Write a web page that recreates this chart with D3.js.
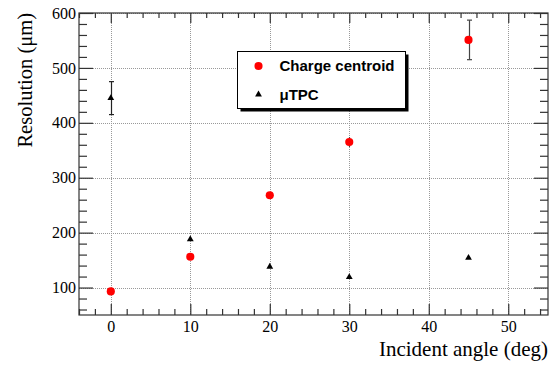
<!DOCTYPE html>
<html>
<head>
<meta charset="utf-8">
<script src="https://cdn.jsdelivr.net/npm/d3@7"></script>
<style>
body { margin: 0; background: #fff; }
</style>
</head>
<body>
<div id="chart"></div>
<script>
// data
var angles = [0, 10, 20, 30, 45];
var centroid = [93, 156, 268, 365, 551];
var centroidErr = [2, 3, 4, 9, 36];
var tpc = [445, 188, 138, 119, 154];
var tpcErr = [30, 2, 2, 2, 2];
var xTicks = [0, 10, 20, 30, 40, 50];
var yTicks = [100, 200, 300, 400, 500, 600];
var seriesNames = ["Charge centroid", "\u03bcTPC"];

var width = 553;
var height = 365;
var margin = {top: 13, right: 5, bottom: 50, left: 79};
var serif = "'Liberation Serif', 'Times New Roman', serif";
var sans = "'Liberation Sans', Arial, sans-serif";

var svg = d3.select("#chart").append("svg")
    .attr("width", width)
    .attr("height", height)
    .style("background-color", "white");

var x = d3.scaleLinear().domain([-4, 55]).range([margin.left, width - margin.right]);
var y = d3.scaleLinear().domain([50, 600]).range([height - margin.bottom, margin.top]);

var minorX = d3.range(-4, 55, 2).filter(v => v % 10 != 0);
var minorY = d3.range(60, 601, 20).filter(v => v % 100 != 0);

//grid lines (dotted)
var grid = svg.append("g")
    .attr("stroke", "#999")
    .attr("stroke-width", 1)
    .attr("stroke-dasharray", "1,1");
grid.selectAll(".gx").data(xTicks).enter().append("line")
    .attr("x1", d => Math.round(x(d)) + 0.5).attr("x2", d => Math.round(x(d)) + 0.5)
    .attr("y1", y(600)).attr("y2", y(50));
grid.selectAll(".gy").data(yTicks).enter().append("line")
    .attr("y1", d => Math.round(y(d)) + 0.5).attr("y2", d => Math.round(y(d)) + 0.5)
    .attr("x1", x(-4)).attr("x2", x(55));

//axes with inward ticks on all 4 sides
function styleAxis(g) {
    g.select(".domain").remove();
    g.selectAll("line").attr("stroke", "#333").attr("stroke-width", 1.2);
    g.selectAll("text").attr("font-family", serif).attr("font-size", "16px").attr("fill", "#000");
}

svg.append("g")
    .attr("transform", "translate(0," + y(50) + ")")
    .call(d3.axisBottom(x).tickValues(xTicks).tickSize(-11).tickSizeOuter(0).tickPadding(5.5))
    .call(styleAxis);
svg.append("g")
    .attr("transform", "translate(0," + y(50) + ")")
    .call(d3.axisBottom(x).tickValues(minorX).tickSize(-6).tickSizeOuter(0).tickFormat(""))
    .call(styleAxis);
svg.append("g")
    .attr("transform", "translate(0," + y(600) + ")")
    .call(d3.axisTop(x).tickValues(xTicks).tickSize(-10).tickSizeOuter(0).tickFormat(""))
    .call(styleAxis);
svg.append("g")
    .attr("transform", "translate(0," + y(600) + ")")
    .call(d3.axisTop(x).tickValues(minorX).tickSize(-5).tickSizeOuter(0).tickFormat(""))
    .call(styleAxis);

svg.append("g")
    .attr("transform", "translate(" + x(-4) + ",0)")
    .call(d3.axisLeft(y).tickValues(yTicks).tickSize(-14).tickSizeOuter(0).tickPadding(3))
    .call(styleAxis);
svg.append("g")
    .attr("transform", "translate(" + x(-4) + ",0)")
    .call(d3.axisLeft(y).tickValues(minorY).tickSize(-8).tickSizeOuter(0).tickFormat(""))
    .call(styleAxis);
svg.append("g")
    .attr("transform", "translate(" + x(55) + ",0)")
    .call(d3.axisRight(y).tickValues(yTicks).tickSize(-14).tickSizeOuter(0).tickFormat(""))
    .call(styleAxis);
svg.append("g")
    .attr("transform", "translate(" + x(55) + ",0)")
    .call(d3.axisRight(y).tickValues(minorY).tickSize(-8).tickSizeOuter(0).tickFormat(""))
    .call(styleAxis);

//frame
svg.append("rect")
    .attr("x", x(-4)).attr("y", y(600))
    .attr("width", x(55) - x(-4)).attr("height", y(50) - y(600))
    .attr("fill", "none")
    .attr("stroke", "#333")
    .attr("stroke-width", 1.2);

//axis titles
svg.append("text")
    .attr("x", x(55))
    .attr("y", 356)
    .attr("text-anchor", "end")
    .attr("font-family", serif)
    .attr("font-size", "21px")
    .text("Incident angle (deg)");
svg.append("text")
    .attr("transform", "translate(31.5," + y(600) + ") rotate(-90)")
    .attr("text-anchor", "end")
    .attr("font-family", serif)
    .attr("font-size", "20.5px")
    .text("Resolution (\u03bcm)");

//error bars
function errorBars(vals, errs, color) {
    var g = svg.append("g").attr("stroke", color).attr("stroke-width", 1.2);
    angles.forEach(function(a, i) {
        var cx = Math.round(x(a)) + 0.5;
        g.append("line").attr("x1", cx).attr("x2", cx)
            .attr("y1", y(vals[i] - errs[i])).attr("y2", y(vals[i] + errs[i]));
        if (y(vals[i] - errs[i]) - y(vals[i] + errs[i]) > 10) {
            [vals[i] - errs[i], vals[i] + errs[i]].forEach(function(v) {
                g.append("line").attr("x1", cx - 2.5).attr("x2", cx + 2.5)
                    .attr("y1", y(v)).attr("y2", y(v));
            });
        }
    });
}
errorBars(centroid, centroidErr, "#444");
errorBars(tpc, tpcErr, "#222");

var circle = d3.symbol().type(d3.symbolCircle).size(52);
var tri = d3.symbol().type(d3.symbolTriangle).size(20);

svg.append("g").selectAll("path").data(angles).enter().append("path")
    .attr("d", circle)
    .attr("transform", (d, i) => "translate(" + x(d) + "," + y(centroid[i]) + ")")
    .attr("fill", "#ff0000");

svg.append("g").selectAll("path").data(angles).enter().append("path")
    .attr("d", tri)
    .attr("transform", (d, i) => "translate(" + x(d) + "," + y(tpc[i]) + ")")
    .attr("fill", "#000");

//legend with shadow
var lx = 237.5, ly = 51.5, lw = 168, lh = 57;
svg.append("rect")
    .attr("x", lx + 3).attr("y", ly + 3)
    .attr("width", lw).attr("height", lh)
    .attr("fill", "#000");
svg.append("rect")
    .attr("x", lx).attr("y", ly)
    .attr("width", lw).attr("height", lh)
    .attr("fill", "#fff")
    .attr("stroke", "#000")
    .attr("stroke-width", 1);

var legend = svg.append("g");
legend.append("path")
    .attr("d", circle)
    .attr("transform", "translate(" + (lx + 21) + "," + (ly + 14.5) + ")")
    .attr("fill", "#ff0000");
legend.append("path")
    .attr("d", tri)
    .attr("transform", "translate(" + (lx + 21) + "," + (ly + 43) + ")")
    .attr("fill", "#000");
legend.selectAll("text").data(seriesNames).enter().append("text")
    .attr("x", lx + 42)
    .attr("y", (d, i) => ly + 19.5 + i * 29)
    .attr("font-family", sans)
    .attr("font-weight", "bold")
    .attr("font-size", "15px")
    .text(d => d);
</script>
</body>
</html>
